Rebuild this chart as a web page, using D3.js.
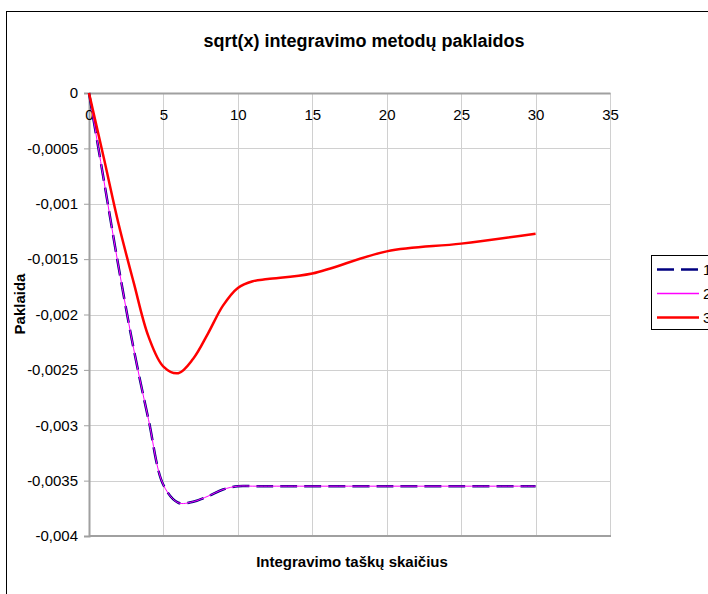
<!DOCTYPE html>
<html>
<head>
<meta charset="utf-8">
<script src="https://cdn.jsdelivr.net/npm/d3@7"></script>
<style>
  html, body { margin: 0; padding: 0; background: #fff; }
  svg { display: block; }
  text { font-family: Arial, "Liberation Sans", sans-serif; fill: #000; }
</style>
</head>
<body>
<svg id="chart" width="708" height="594"></svg>
<script>
// Integration points (x) and error values of the three methods
const xValues = [0, 1, 2, 3, 4, 5, 6, 7, 8, 9, 10, 11, 12, 15, 20, 25, 30];
const series1 = [0, -0.00079, -0.00158, -0.00231, -0.00295, -0.00354, -0.00370, -0.00369, -0.00364, -0.00358, -0.00355, -0.00355, -0.00355, -0.00355, -0.00355, -0.00355, -0.00355];
const series2 = [0, -0.00079, -0.00158, -0.00231, -0.00295, -0.00354, -0.00370, -0.00369, -0.00364, -0.00358, -0.00355, -0.00355, -0.00355, -0.00355, -0.00355, -0.00355, -0.00355];
const series3 = [0, -0.00059, -0.00119, -0.00171, -0.00220, -0.00247, -0.00253, -0.00240, -0.00217, -0.00192, -0.00176, -0.00170, -0.00168, -0.00163, -0.00143, -0.00136, -0.00127];
const seriesNames = ["1", "2", "3"];
const xTicks = [0, 5, 10, 15, 20, 25, 30, 35];
const yTicks = [0, -0.0005, -0.001, -0.0015, -0.002, -0.0025, -0.003, -0.0035, -0.004];

const titleText = "sqrt(x) integravimo metodų paklaidos";
const xTitle = "Integravimo taškų skaičius";
const yTitle = "Paklaida";

const svg = d3.select("#chart");
const plot = { left: 89, right: 610, top: 93, bottom: 536 };

const x = d3.scaleLinear().domain([0, 35]).range([plot.left, plot.right]);
const y = d3.scaleLinear().domain([-0.004, 0]).range([plot.bottom, plot.top]);

const locale = d3.formatLocale({ decimal: ",", thousands: " ", grouping: [3], currency: ["", ""], minus: "-" });
const fmt = locale.format("~g");

// outer chart frame
svg.append("rect")
  .attr("x", 6.5).attr("y", 11.5).attr("width", 760).attr("height", 640)
  .attr("fill", "#fff").attr("stroke", "#000").attr("stroke-width", 1);

// gridlines
const grid = svg.append("g");
grid.selectAll("line.h").data(yTicks.filter(v => v !== 0 && v !== -0.004)).join("line")
  .attr("x1", plot.left).attr("x2", plot.right)
  .attr("y1", d => Math.round(y(d)) + 0.5).attr("y2", d => Math.round(y(d)) + 0.5)
  .attr("stroke", "#d0d0d0").attr("stroke-width", 1);
grid.selectAll("line.v").data(xTicks.filter(v => v !== 0)).join("line")
  .attr("x1", d => Math.round(x(d)) + 0.5).attr("x2", d => Math.round(x(d)) + 0.5)
  .attr("y1", plot.top).attr("y2", plot.bottom)
  .attr("stroke", "#d0d0d0").attr("stroke-width", 1);

// bottom edge of the plot area
svg.append("line")
  .attr("x1", plot.left).attr("x2", plot.right + 1)
  .attr("y1", plot.bottom).attr("y2", plot.bottom)
  .attr("stroke", "#a0a0a0").attr("stroke-width", 2);

// y axis (left)
const yAxis = d3.axisLeft(y).tickValues(yTicks).tickSize(5).tickPadding(6).tickFormat(fmt);
const gy = svg.append("g").attr("transform", `translate(${plot.left},0)`).call(yAxis);
gy.select(".domain").attr("stroke", "#a0a0a0").attr("stroke-width", 2);
gy.selectAll(".tick line").attr("stroke", "#a0a0a0");
gy.selectAll(".tick text").attr("font-size", 15).attr("font-family", "Arial, 'Liberation Sans', sans-serif");

// x axis crosses at zero (top of plot), labels below the line
const xAxis = d3.axisBottom(x).tickValues(xTicks).tickSize(0).tickPadding(16).tickFormat(fmt);
const gx = svg.append("g").attr("transform", `translate(0,${plot.top})`).call(xAxis);
gx.select(".domain").attr("stroke", "#a0a0a0").attr("stroke-width", 2);
gx.selectAll(".tick text").attr("font-size", 15).attr("font-family", "Arial, 'Liberation Sans', sans-serif");

// series lines (smoothed)
const line = d3.line().x(d => x(d[0])).y(d => y(d[1])).curve(d3.curveCatmullRom.alpha(0.5));
const styles = [
  { color: "#000080", width: 2.5, dash: "17,7" },
  { color: "#ff00ff", width: 1, dash: null },
  { color: "#ff0000", width: 2.5, dash: null }
];
[series1, series2, series3].forEach((vals, i) => {
  svg.append("path")
    .datum(xValues.map((xv, j) => [xv, vals[j]]))
    .attr("d", line)
    .attr("fill", "none")
    .attr("stroke", styles[i].color)
    .attr("stroke-width", styles[i].width)
    .attr("stroke-dasharray", styles[i].dash)
    .attr("stroke-linejoin", "round");
});

// titles
svg.append("text").attr("x", 364).attr("y", 47).attr("text-anchor", "middle")
  .attr("font-size", 18).attr("font-weight", "bold").text(titleText);
svg.append("text").attr("x", 352).attr("y", 567).attr("text-anchor", "middle")
  .attr("font-size", 15).attr("font-weight", "bold").text(xTitle);
svg.append("text").attr("transform", "translate(25,304) rotate(-90)").attr("text-anchor", "middle")
  .attr("font-size", 15).attr("font-weight", "bold").text(yTitle);

// legend
const lg = svg.append("g");
lg.append("rect").attr("x", 651.5).attr("y", 255.5).attr("width", 90).attr("height", 74)
  .attr("fill", "#fff").attr("stroke", "#000").attr("stroke-width", 1);
seriesNames.forEach((name, i) => {
  const ly = 269.5 + i * 24;
  lg.append("line").attr("x1", 657).attr("x2", 699).attr("y1", ly).attr("y2", ly)
    .attr("stroke", styles[i].color).attr("stroke-width", i === 1 ? 1.5 : styles[i].width)
    .attr("stroke-dasharray", styles[i].dash);
  lg.append("text").attr("x", 703).attr("y", ly + 5).attr("font-size", 15).text(name);
});
</script>
</body>
</html>
